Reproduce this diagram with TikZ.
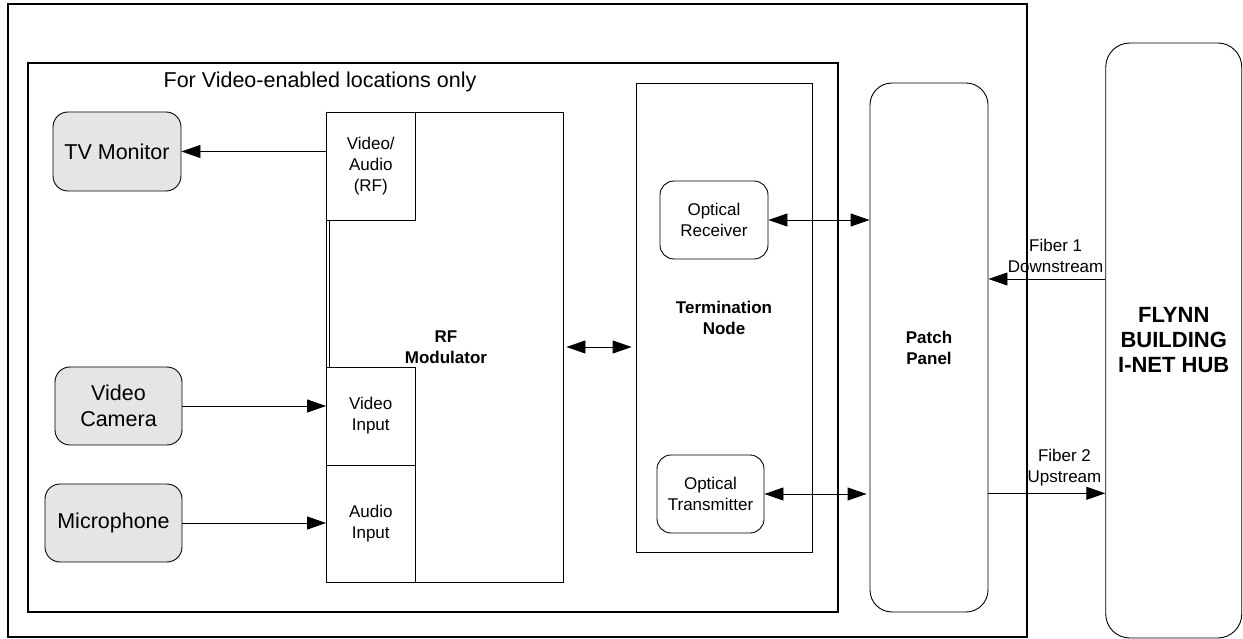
\documentclass[tikz,border=0pt]{standalone}
\usepackage{fontspec}
\setmainfont{Liberation Sans}
\usetikzlibrary{arrows.meta}

\begin{document}
\begin{tikzpicture}[x=1pt,y=-1pt,
  boite/.style={draw,line width=0.9pt,inner sep=0pt,align=center,font=\fontsize{17}{21}\selectfont},
  appareil/.style={boite,rounded corners=15pt,fill=gray!20,font=\fontsize{21.5}{26}\selectfont},
  gras/.style={font=\bfseries\fontsize{17}{21}\selectfont},
  etiquette/.style={inner sep=1.5pt,align=center,font=\fontsize{17}{21}\selectfont},
  fleche/.style={line width=0.9pt,-{Triangle[length=19pt,width=13pt]}},
  fleche2/.style={line width=0.9pt,{Triangle[length=19pt,width=13pt]}-{Triangle[length=19pt,width=13pt]}}]
\useasboundingbox (0,0) rectangle (1243,639);

% Cadres
\draw[line width=1.2pt] (8,4) rectangle (1027,637);
\draw[line width=1.2pt] (28,63) rectangle (838,612);
\node[font=\fontsize{21.5}{26}\selectfont] (titre) at (320,82) {For Video-enabled locations only};

% Appareils
\node[appareil,minimum width=128pt,minimum height=79pt] (tv) at (117,151.5) {TV Monitor};
\node[appareil,minimum width=127pt,minimum height=78pt] (camera) at (118.5,406) {Video\\Camera};
\node[appareil,minimum width=137pt,minimum height=78pt] (micro) at (113.5,523) {Microphone};

% Modulateur RF et ses entrees
\node[boite,gras,minimum width=234pt,minimum height=470pt] (rfmod) at (446,347) {RF\\Modulator};
\node[boite,fill=white,minimum width=88.5pt,minimum height=108pt] (rfout) at (370.75,166) {Video/\\Audio\\(RF)};
\node[boite,fill=white,minimum width=88.5pt,minimum height=98pt] (vidin) at (370.75,416) {Video\\Input};
\node[boite,fill=white,minimum width=88.5pt,minimum height=117pt] (audin) at (370.75,523.5) {Audio\\Input};
\draw[line width=0.9pt] (rfout.north west) -- (audin.south west);

% Noeud de terminaison
\node[boite,gras,line width=0.7pt,minimum width=176pt,minimum height=469pt] (term) at (724,317.5) {Termination\\Node};
\node[boite,rounded corners=14pt,fill=white,minimum width=108pt,minimum height=78pt] (orx) at (714,220) {Optical\\Receiver};
\node[boite,rounded corners=14pt,fill=white,minimum width=107pt,minimum height=78pt] (otx) at (710.5,494) {Optical\\Transmitter};

% Panneau et hub
\node[boite,gras,rounded corners=22pt,minimum width=118pt,minimum height=529pt] (patch) at (929,347.5) {Patch\\Panel};
\node[boite,rounded corners=24pt,minimum width=136pt,minimum height=595pt,font=\bfseries\fontsize{22}{25}\selectfont] (hub) at (1173.75,340.5) {FLYNN\\BUILDING\\I-NET HUB};

% Liaisons
\draw[fleche] (rfout.west |- tv.east) -- (tv.east);
\draw[fleche] (camera.east) -- (camera.east -| vidin.west);
\draw[fleche] (micro.east) -- (micro.east -| audin.west);
\draw[fleche2,shorten <=3pt,shorten >=4pt] (rfmod.east) -- (rfmod.east -| term.west);
\draw[fleche2] (orx.east) -- (orx.east -| patch.west);
\draw[fleche2,shorten >=3pt] (otx.east) -- (otx.east -| patch.west);

% Fibres
\draw[fleche] ([yshift=61.5pt]hub.west) -- ([yshift=61.5pt]hub.west -| patch.east)
  node[etiquette,pos=0,anchor=south east,yshift=4pt] (fibre1) {Fiber 1\\Downstream};
\draw[fleche] ([yshift=-145.8pt]patch.east) -- ([yshift=-145.8pt]patch.east -| hub.west)
  node[etiquette,pos=1,anchor=south east,xshift=-2pt,yshift=5.5pt] (fibre2) {Fiber 2\\Upstream};

\end{tikzpicture}
\end{document}
